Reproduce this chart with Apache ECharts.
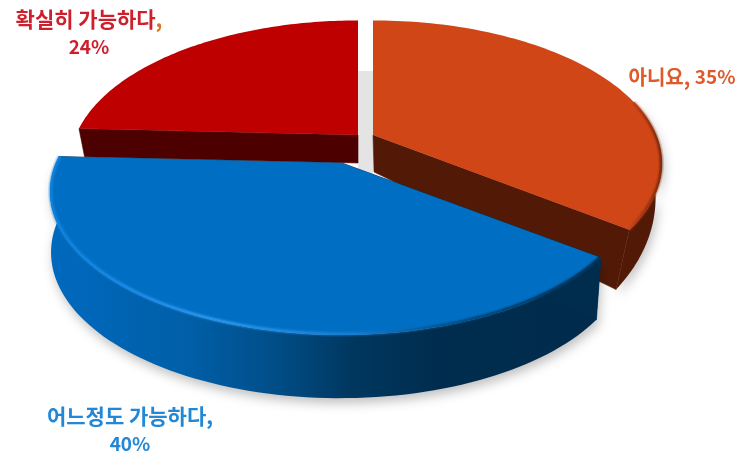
<!DOCTYPE html>
<html>
<head>
<meta charset="utf-8">
<style>html,body{margin:0;padding:0;background:#fff}#chart{width:741px;height:452px}</style>
<script src="https://cdn.jsdelivr.net/npm/echarts@6/dist/echarts.min.js"></script>
</head>
<body>
<div id="chart"></div>
<script>
// Survey answers, clockwise from twelve o'clock
const categories = ['아니요', '어느정도 가능하다', '확실히 가능하다'];
const shares = [35, 40, 24];

// Painting order: back slices first, the big front slice last
const paintOrder = [2, 0, 1];

// Ground-plane projection of the unit disc
const radiusX = [283, 286, 282];
const RY = 137.5, PERSPECTIVE = 0.2;

// Each slice is pulled away from the pie centre, so it owns its apex and wall geometry
const apexX = [373, 342, 358];
const apexY = [135, 163, 135];
const wallBase = [37, 60, 28];
const wallSlope = [40, 5, 0];
const floorScale = [0.985, 0.99, 0.98];
const floorShift = [1, -2, 0];
const floorLean = [-17, 0, 0];

const topColors = ['#D04616', '#006FC3', '#BE0000'];
const cutColors = ['#521A06', '#002C4E', '#4D0000'];
const labelColors = ['#DE5A2B', '#2288D6', '#CE1F2C'];
const commaColors = ['#DE5A2B', '#2288D6', '#D9762B'];

const wallStops = [
  [[0, '#521A06'], [1, '#521A06']],
  [[0, '#0069BE'], [0.25, '#005FA8'], [0.4, '#004F8A'], [0.55, '#00375F'], [0.7, '#002D4F'], [1, '#002B4C']],
  [[0, '#4D0000'], [1, '#4D0000']]
];
const rimStops = [
  [[0, '#D04616'], [0.45, '#A83510'], [1, '#7A2A0C']],
  [[0, '#0D80DE'], [0.3, '#2A94EC'], [0.55, '#157CD0'], [0.75, '#004A80'], [1, '#002F52']],
  [[0, '#BE0000'], [1, '#BE0000']]
];

// Text placement, line breaks included
const labelCenterX = [682, 130, 89];
const labelCenterY = [77, 430, 33];
const labelBreak = [' ', '\n', '\n'];
const labelFontSize = [20, 21, 21];

const total = shares.reduce((a, b) => a + b, 0);
const startAngles = [];
shares.reduce((acc, s, i) => { startAngles[i] = acc / total * 2 * Math.PI; return acc + s; }, 0);

function project(i, theta) {
  const u = Math.sin(theta), v = -Math.cos(theta), w = 1 - PERSPECTIVE * v;
  return [apexX[i] + radiusX[i] * u / w, apexY[i] + RY * v / w, v];
}
function floorPoint(i, p) {
  return [
    apexX[i] + (p[0] - apexX[i]) * floorScale[i] + floorShift[i] + floorLean[i] * p[2],
    apexY[i] + (p[1] - apexY[i]) * floorScale[i] + wallBase[i] + wallSlope[i] * p[2]
  ];
}
function arc(i, from, to) {
  const pts = [], steps = 90;
  for (let s = 0; s <= steps; s++) pts.push(project(i, from + (to - from) * s / steps));
  return pts;
}
const grad = stops => new echarts.graphic.LinearGradient(0, 0, 1, 0,
  stops.map(s => ({ offset: s[0], color: s[1] })));

function renderSlice(params, api) {
  const i = api.value(0);
  const a0 = startAngles[i];
  const a1 = a0 + api.value(1) / total * 2 * Math.PI;
  const rim = arc(i, a0, a1);
  const apex = [apexX[i], apexY[i], 0];
  const children = [];
  const facesFront = a0 < Math.PI;
  const front = facesFront ? arc(i, Math.max(a0, Math.PI * 0.42), a1) : [];

  // Curved outer wall, only on the part of the rim that faces the viewer
  if (facesFront) {
    const wall = front.map(p => [p[0], p[1]]).concat(front.slice().reverse().map(p => floorPoint(i, p)));
    children.push({
      type: 'polygon', shape: { points: wall },
      style: { fill: grad(wallStops[i]), shadowBlur: 11, shadowColor: 'rgba(0,0,0,0.25)', shadowOffsetX: 2, shadowOffsetY: 5 }
    });
  }

  // Flat cut faces from the apex out to the rim; faces pointing straight back stay hidden
  [rim[0], rim[rim.length - 1]].forEach(end => {
    if (end[2] < -0.5) return;
    children.push({
      type: 'polygon',
      shape: { points: [[apex[0], apex[1]], [end[0], end[1]], floorPoint(i, end), floorPoint(i, apex)] },
      style: { fill: cutColors[i], stroke: cutColors[i], lineWidth: 0.6 }
    });
  });

  // Top surface
  const top = [[apex[0], apex[1]]].concat(rim.map(p => [p[0], p[1]]));
  children.push({ type: 'polygon', shape: { points: top }, style: { fill: topColors[i] } });

  // Soft bevel running along the front rim
  if (facesFront) {
    const line = front.map(p => [apex[0] + (p[0] - apex[0]) * 0.997, apex[1] + (p[1] - apex[1]) * 0.994]);
    [[6, 0.2], [3.5, 0.45], [2, 0.9]].forEach(b => {
      children.push({
        type: 'polyline', shape: { points: line },
        style: { stroke: grad(rimStops[i]), lineWidth: b[0], opacity: b[1], fill: null }
      });
    });
  }

  // Answer and percentage
  const font = '"Noto Sans CJK KR"';
  const c = labelColors[i];
  const sep = labelBreak[i];
  children.push({
    type: 'text',
    style: {
      x: labelCenterX[i], y: labelCenterY[i],
      text: '{name|' + categories[i] + '}{comma|,}' + (sep === ' ' ? '{name| }' : sep) + '{pct|' + shares[i] + '%}',
      align: 'center', verticalAlign: 'middle',
      rich: {
        name: { fill: c, fontFamily: font, fontWeight: 600, fontSize: labelFontSize[i], lineHeight: 27 },
        comma: { fill: commaColors[i], fontFamily: font, fontWeight: 600, fontSize: labelFontSize[i], lineHeight: 27 },
        pct: { fill: c, fontFamily: font, fontWeight: 700, fontSize: 19, lineHeight: 27 }
      }
    }
  });
  return { type: 'group', children };
}

const chart = echarts.init(document.getElementById('chart'), null, { renderer: 'canvas' });
chart.setOption({
  animation: false,
  backgroundColor: '#fff',
  graphic: [{
    type: 'rect', z: 0, silent: true,
    shape: { x: 358, y: 71, width: 15, height: 105 },
    style: { fill: '#E4E4E4' }
  }],
  series: [{
    type: 'custom',
    coordinateSystem: 'none',
    silent: true,
    z: 2,
    clip: false,
    renderItem: renderSlice,
    encode: { value: [0, 1] },
    data: paintOrder.map(i => [i, shares[i]])
  }]
});
</script>
</body>
</html>
